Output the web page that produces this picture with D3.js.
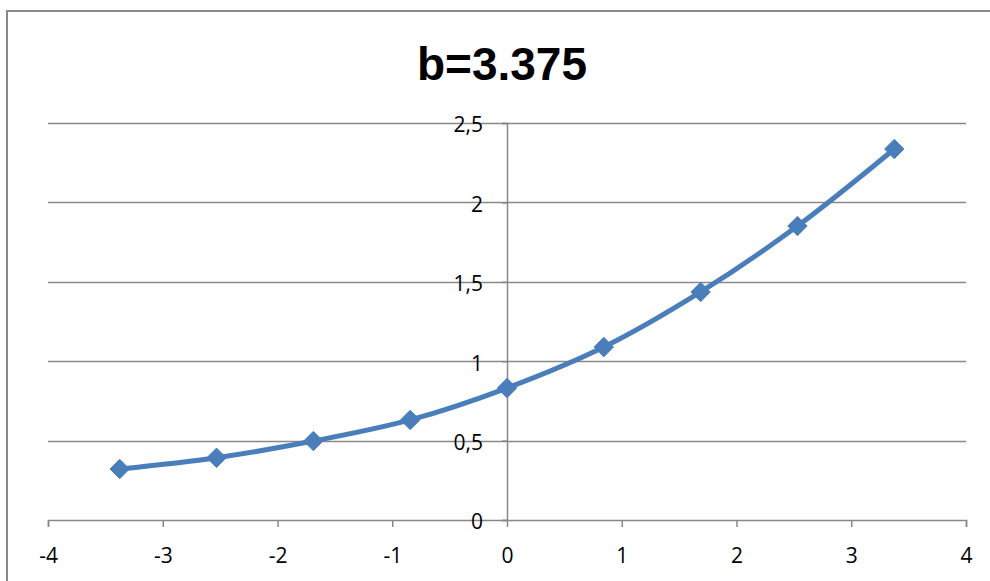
<!DOCTYPE html>
<html>
<head>
<meta charset="utf-8">
<script src="https://cdn.jsdelivr.net/npm/d3@7"></script>
<style>
  html, body { margin: 0; padding: 0; background: #fff; }
  svg { display: block; }
</style>
</head>
<body>
<svg id="chart" width="990" height="581"></svg>
<script>
const title = "b=3.375";
const xValues = [-3.375, -2.53125, -1.6875, -0.84375, 0, 0.84375, 1.6875, 2.53125, 3.375];
const yValues = [0.321, 0.392, 0.497, 0.630, 0.831, 1.089, 1.436, 1.851, 2.336];
const xTicks = [-4, -3, -2, -1, 0, 1, 2, 3, 4];
const yTicks = [0, 0.5, 1, 1.5, 2, 2.5];
const yTickLabels = ["0", "0,5", "1", "1,5", "2", "2,5"];

const svg = d3.select("#chart");
const font = "'Open Sans', 'Noto Sans', sans-serif";
const titleFont = "'Liberation Sans', Arial, sans-serif";

// outer frame
svg.append("path")
  .attr("d", "M7,581 L7,11 L990,11")
  .attr("fill", "none").attr("stroke", "#898989").attr("stroke-width", 2);

const x = d3.scaleLinear().domain([-4, 4]).range([48, 966]);
const y = d3.scaleLinear().domain([0, 2.5]).range([520, 123]);

// horizontal gridlines
svg.append("g").selectAll("line").data(yTicks.filter(d => d !== 0)).join("line")
  .attr("x1", x(-4)).attr("x2", x(4))
  .attr("y1", d => Math.round(y(d)) + 0.5).attr("y2", d => Math.round(y(d)) + 0.5)
  .attr("stroke", "#888").attr("stroke-width", 1.5);

// x axis
const xAxis = d3.axisBottom(x).tickValues(xTicks).tickSize(7).tickPadding(21)
  .tickFormat(d => String(d));
const gx = svg.append("g").attr("transform", `translate(0,${y(0)})`).call(xAxis);
gx.attr("font-size", null).attr("font-family", null);
gx.select(".domain").attr("stroke", "#888").attr("stroke-width", 1.5);
gx.selectAll(".tick line").attr("stroke", "#888").attr("stroke-width", 1.5);
gx.selectAll("text").style("font-family", font).style("font-size", "21px").attr("fill", "#000");

// y axis at x=0
const yAxis = d3.axisLeft(y).tickValues(yTicks).tickSize(5).tickPadding(19)
  .tickFormat((d, i) => yTickLabels[i]);
const gy = svg.append("g").attr("transform", `translate(${x(0)},0)`).call(yAxis);
gy.attr("font-size", null).attr("font-family", null);
gy.select(".domain").attr("stroke", "#888").attr("stroke-width", 1.5);
gy.selectAll(".tick line").attr("stroke", "#888").attr("stroke-width", 1.5);
gy.selectAll("text").style("font-family", font).style("font-size", "21px").attr("fill", "#000")
  .attr("dy", "0.42em");

// title
svg.append("text")
  .attr("x", 502).attr("y", 80)
  .attr("text-anchor", "middle")
  .style("font-family", titleFont).style("font-weight", "bold").style("font-size", "46px")
  .attr("fill", "#000")
  .text(title);

const data = xValues.map((v, i) => ({x: v, y: yValues[i]}));

// smoothed line
const line = d3.line().x(d => x(d.x)).y(d => y(d.y)).curve(d3.curveCatmullRom.alpha(0.5));
svg.append("path").datum(data)
  .attr("d", line)
  .attr("fill", "none").attr("stroke", "#4a7ebb").attr("stroke-width", 5)
  .attr("stroke-linejoin", "round").attr("stroke-linecap", "round");

// diamond markers
const diamond = d3.symbol().type(d3.symbolDiamond2).size(240);
svg.append("g").selectAll("path").data(data).join("path")
  .attr("transform", d => `translate(${x(d.x)},${y(d.y)})`)
  .attr("d", diamond)
  .attr("fill", "#4a7ebb").attr("stroke", "#4a7ebb").attr("stroke-width", 1);
</script>
</body>
</html>
